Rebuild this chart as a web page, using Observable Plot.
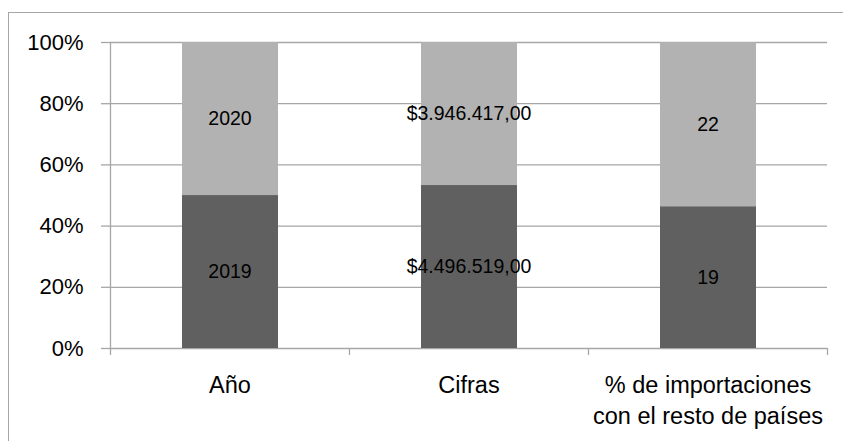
<!DOCTYPE html>
<html>
<head>
<meta charset="utf-8">
<script src="https://cdn.jsdelivr.net/npm/d3@7"></script>
<script src="https://cdn.jsdelivr.net/npm/@observablehq/plot@0.6"></script>
<style>
  html, body { margin: 0; padding: 0; background: #fff; overflow: hidden; }
  #wrap { position: relative; width: 843px; height: 441px; }
  #border { position: absolute; left: 8px; top: 12px; right: -5px; bottom: -5px; border: 1px solid #a6a6a6; }
  #chart { position: absolute; left: 0; top: 0; }
</style>
</head>
<body>
<div id="wrap"><div id="border"></div><div id="chart"></div></div>
<script>
const categories = ["Año", "Cifras", "% de importaciones\ncon el resto de países"];
const series2019 = [2019, 4496519, 19];
const series2020 = [2020, 3946417, 22];
const labels2019 = ["2019", "$4.496.519,00", "19"];
const labels2020 = ["2020", "$3.946.417,00", "22"];
const yTicks = [0, 0.2, 0.4, 0.6, 0.8, 1];

const rows = categories.flatMap((c, i) => {
  const t = series2019[i] + series2020[i];
  const p = series2019[i] / t;
  return [
    {i, y1: 0, y2: p, s: "a", label: labels2019[i]},
    {i, y1: p, y2: 1, s: "b", label: labels2020[i]}
  ];
});

const grey = "#a6a6a6";
const font = "Liberation Sans, Arial, sans-serif";

const chart = Plot.plot({
  width: 843,
  height: 441,
  marginLeft: 110,
  marginRight: 16,
  marginTop: 42,
  marginBottom: 93,
  style: {fontFamily: font, color: "#000", background: "transparent", overflow: "visible"},
  x: {domain: [0, categories.length], axis: null},
  y: {domain: [0, 1], axis: null},
  color: {domain: ["a", "b"], range: ["#606060", "#b2b2b2"]},
  marks: [
    Plot.gridY(yTicks, {stroke: grey, strokeOpacity: 1, strokeWidth: 1.3}),
    Plot.rectY(rows, {x1: d => d.i, x2: d => d.i + 1, y1: "y1", y2: "y2", fill: "s", insetLeft: 72, insetRight: 71}),
    Plot.ruleX([0], {stroke: grey, strokeWidth: 1.3}),
    Plot.text(rows, {x: d => d.i + 0.5, y: d => (d.y1 + d.y2) / 2, text: "label", fill: "#000", fontSize: 19.5}),
    Plot.axisY({ticks: yTicks, tickFormat: d3.format(".0%"), tickSize: 9, tickPadding: 18, fontSize: 22, stroke: grey, strokeWidth: 1.3, label: null}),
    Plot.axisX({ticks: [0, 1, 2, 3], tickSize: 7, tickFormat: () => "", stroke: grey, strokeWidth: 1.3, label: null}),
    Plot.axisX({ticks: categories.map((c, i) => i + 0.5), tickFormat: d => categories[Math.floor(d)], tickSize: 0, tickPadding: 22, fontSize: 23.5, lineHeight: 1.33, label: null})
  ]
});
document.getElementById("chart").appendChild(chart);
</script>
</body>
</html>
